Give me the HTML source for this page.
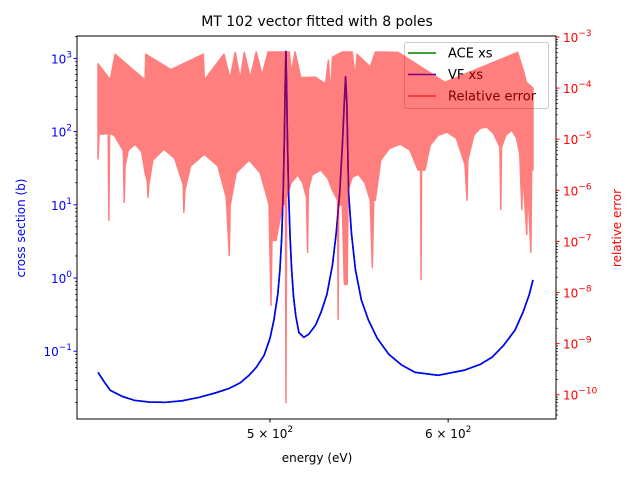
<!DOCTYPE html>
<html><head><meta charset="utf-8"><style>
html,body{margin:0;padding:0;background:#fff;}
svg{display:block;font-family:"DejaVu Sans","Liberation Sans",sans-serif;}
</style></head><body>
<svg id="chart" width="640" height="480" viewBox="0 0 640 480">
<rect width="640" height="480" fill="#fff"/>
<text x="317" y="26" font-size="14" text-anchor="middle">MT 102 vector fitted with 8 poles</text>
<text x="317" y="462" font-size="12" text-anchor="middle">energy (eV)</text>
<text x="25" y="228" font-size="12" fill="#0000ff" text-anchor="middle" transform="rotate(-90 25 228)">cross section (b)</text>
<text x="621" y="228" font-size="12" fill="#ff0000" text-anchor="middle" transform="rotate(-90 621 228)">relative error</text>
<g id="plot"></g>
</svg>
<script>
const xsEnergy=[419.3,422,424.6,430,435.3,442,448.9,457,465,473,479.6,485,489.4,493,497,500,502,504,505.1,506,506.8,507.4,507.8,508.2,508.6,509,509.6,510.4,511.2,512.2,513.4,515,517.6,520.2,524,527,530,533,535,537,538.5,539.5,540.2,540.9,541.9,543.5,545.7,549,553,558,564.6,572,580,594,610,620,627.6,635,642.5,648,652,654.4];
const xsValues=[0.0515,0.038,0.0292,0.024,0.0213,0.0202,0.020,0.021,0.0234,0.027,0.0311,0.037,0.0469,0.06,0.088,0.15,0.266,0.6,1.29,3.5,15,80,400,1250,400,80,15,3.5,1.3,0.55,0.3,0.18,0.155,0.17,0.23,0.35,0.6,1.5,4,15,70,250,560,250,14.2,4,1.29,0.5,0.266,0.15,0.091,0.065,0.0515,0.0469,0.055,0.066,0.0828,0.12,0.194,0.35,0.6,0.94];
const errTopEnergy=[419.3,424.6,426.7,440.0,440.3,451.8,467.0,467.5,477.0,480.0,482.5,485.0,487.0,490.0,493.0,496.0,499.0,510.0,511.0,513.0,516.0,523.8,529.2,530.8,532.0,533.0,538.4,543.9,545.5,546.6,554.0,556.9,570.1,598.0,644.2,648.0,650.0,654.4];
const errTopValues=[3e-4,1.44e-4,4.6e-4,1.44e-4,4.6e-4,2.3e-4,4.6e-4,1.44e-4,4.6e-4,1.5e-4,5e-4,1.5e-4,5e-4,1.6e-4,5.1e-4,1.8e-4,5.1e-4,5.1e-4,2e-4,5.1e-4,1.6e-4,1.64e-4,1.2e-4,3.5e-4,7.3e-5,4e-4,5.1e-4,5.1e-4,1.6e-4,4.6e-4,2.6e-4,5.1e-4,5e-4,1.3e-4,5e-4,2.2e-4,1.3e-4,1e-4];
const errBotEnergy=[419.3,419.8,421.0,423.7,424.0,424.3,426.3,430.3,430.7,431.1,432.5,435.5,438.5,440.0,441.0,441.3,441.7,443.5,448.6,453.5,456.0,457.5,457.8,458.3,461,467.5,474,478.1,479.6,480.0,483,489.4,495,499.5,500.5,501.0,503.1,506.6,508.0,508.2,508.6,511,514.4,517,519,519.6,520.0,522,526.6,530.5,533,535.8,536.1,536.4,538.4,539.5,541.1,541.6,543.9,547.3,551,554.0,555.2,556.0,556.9,560,565,571.2,577,581.8,583.3,583.6,583.9,586.0,589,594,599.4,605,610.4,611.7,612.2,616,620,624.3,628.5,632.6,633.2,633.7,636.5,640.4,643.5,645.6,647.0,647.5,650.3,650.8,653.0,653.5,654.4];
const errBotValues=[4.1e-6,1.3e-5,1.25e-5,1.3e-5,2.6e-7,1.3e-5,1.2e-5,6e-6,5.8e-7,3e-6,6.1e-6,8e-6,5.6e-6,2.2e-6,1.5e-6,7.3e-7,1.3e-6,3.9e-6,6.4e-6,4.2e-6,2e-6,1.3e-6,3.7e-7,1e-6,3e-6,5.1e-6,3e-6,7.3e-7,5.3e-8,5e-7,2.2e-6,3.9e-6,2.2e-6,5.3e-7,5.6e-9,1.05e-7,1.05e-7,5.3e-7,5.3e-7,7e-11,7.3e-7,1.4e-6,2e-6,1.4e-6,7.3e-7,6.1e-8,1e-6,2e-6,2.5e-6,1.7e-6,1e-6,6.4e-7,3e-9,5e-7,5.3e-7,1.44e-8,1.44e-8,1e-6,1.8e-6,2.06e-6,1.4e-6,6.4e-7,3.1e-8,6.4e-7,6.4e-7,3.9e-6,6.6e-6,8e-6,6.1e-6,2.5e-6,2.5e-6,1.8e-8,2.5e-6,2.5e-6,7.6e-6,1.2e-5,1.37e-5,1.05e-5,3.2e-6,6.4e-7,3.9e-6,1.2e-5,1.64e-5,1.72e-5,1.3e-5,7e-6,4.2e-7,7e-6,1.2e-5,1.5e-5,1.05e-5,5.1e-6,4.2e-7,2.5e-6,1.37e-7,1.5e-6,6.1e-8,2.5e-6,2.5e-6];
const leftTickExp=[-1,0,1,2,3];
const rightTickExp=[-10,-9,-8,-7,-6,-5,-4,-3];
const xTickValues=[500,600];
const xTickLabels=["5","6"];

const NS="http://www.w3.org/2000/svg";
const L=77,R=556,T=36,B=419;
const X=e=>270+2250*Math.log10(e/500);
const YL=v=>278-73.2*Math.log10(v);
const YR=v=>37-51.1*(Math.log10(v)+3);
const g=document.getElementById('plot');
function mk(tag,attrs,parent){const el=document.createElementNS(NS,tag);for(const k in attrs)el.setAttribute(k,attrs[k]);(parent||g).appendChild(el);return el;}

const defs=mk('defs',{});
const cp=mk('clipPath',{id:'clip'},defs);
mk('rect',{x:L,y:T,width:R-L,height:B-T},cp);

let d=xsEnergy.map((e,i)=>(i?'L':'M')+X(e).toFixed(2)+','+YL(xsValues[i]).toFixed(2)).join('');
let ace=mk('path',{d:d,fill:'none',stroke:'#008000','stroke-width':1.6,'clip-path':'url(#clip)'});


let vf=mk('path',{d:d,fill:'none',stroke:'#0000ff','stroke-width':1.6,'stroke-linejoin':'round','clip-path':'url(#clip)'});



const lg=mk('g',{});


mk('rect',{x:404.5,y:42.5,width:144,height:66,rx:2,fill:'#fff','fill-opacity':0.8,stroke:'#ccc'},lg);
const names=["ACE xs","VF xs","Relative error"],cols=["#008000","#0000ff","#ff0000"],ops=[1,1,0.7];
names.forEach((n,i)=>{const y=53+i*21.5;
 let ln=mk('line',{x1:408,x2:436,y1:y,y2:y,stroke:cols[i],'stroke-width':1.6,'stroke-opacity':ops[i]},lg);
 
 
 let t=mk('text',{x:448,y:y+4.5,'font-size':13},lg);t.textContent=n;
 
 });

let pd=errTopEnergy.map((e,i)=>(i?'L':'M')+X(e).toFixed(2)+','+YR(errTopValues[i]).toFixed(2)).join('');
for(let i=errBotEnergy.length-1;i>=0;i--)pd+='L'+X(errBotEnergy[i]).toFixed(2)+','+YR(errBotValues[i]).toFixed(2);
pd+='Z';
const eg=mk('g',{opacity:0.5,'clip-path':'url(#clip)'});
let err=mk('path',{d:pd,fill:'#ff0000',stroke:'#ff0000','stroke-width':1.5,'stroke-linejoin':'round'},eg);



let fr=mk('rect',{x:L,y:T,width:R-L,height:B-T,fill:'none',stroke:'#000','stroke-width':1});



leftTickExp.forEach(p=>{
 const y=YL(Math.pow(10,p));
 mk('line',{x1:L-3.5,x2:L,y1:y,y2:y,stroke:'#0000ff'});
 const t=mk('text',{x:L-5,y:y+5,'font-size':12,fill:'#0000ff','text-anchor':'end'});
 
 
 t.innerHTML='10<tspan dy="-6" font-size="9">'+p.toString().replace('-','\u2212')+'</tspan>';
});
for(let p=-2;p<=3;p++)for(let m=2;m<10;m++){const y=YL(m*Math.pow(10,p));if(y>T&&y<B)mk('line',{x1:L-2,x2:L,y1:y,y2:y,stroke:'#000','stroke-width':0.7});}
rightTickExp.forEach(p=>{
 const y=YR(Math.pow(10,p));
 mk('line',{x1:R,x2:R+3.5,y1:y,y2:y,stroke:'#ff0000'});
 const t=mk('text',{x:R+7,y:y+5,'font-size':12,fill:'#ff0000'});
 
 
 t.innerHTML='10<tspan dy="-6" font-size="9">'+p.toString().replace('-','\u2212')+'</tspan>';
});
for(let p=-11;p<=-3;p++)for(let m=2;m<10;m++){const y=YR(m*Math.pow(10,p));if(y>T&&y<B)mk('line',{x1:R,x2:R+2,y1:y,y2:y,stroke:'#000','stroke-width':0.7});}
xTickValues.forEach((v,i)=>{
 const x=X(v);
 mk('line',{x1:x,x2:x,y1:B,y2:B+3.5,stroke:'#000'});
 const t=mk('text',{x:x,y:B+19,'font-size':12,'text-anchor':'middle'});
 
 
 t.innerHTML=xTickLabels[i]+' \u00d7 10<tspan dy="-6" font-size="9">2</tspan>';
});
</script>
</body></html>
